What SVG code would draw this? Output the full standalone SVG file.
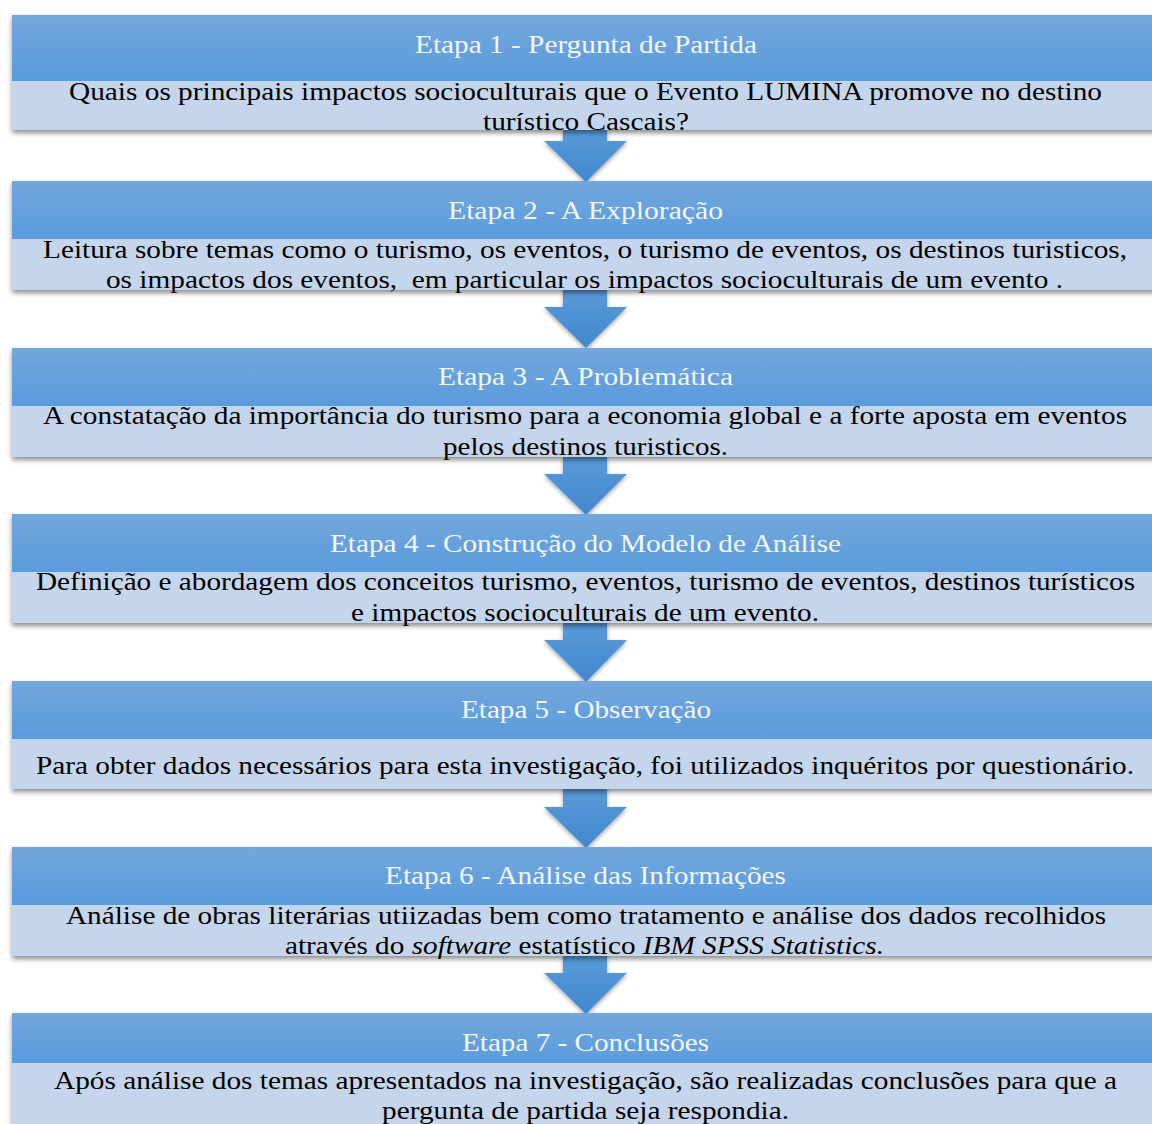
<svg xmlns="http://www.w3.org/2000/svg" width="1152" height="1124" viewBox="0 0 1152 1124">
<defs>
<linearGradient id="hdr" x1="0" y1="0" x2="0" y2="1">
<stop offset="0" stop-color="#73a7dc"/>
<stop offset="1" stop-color="#5a9bdc"/>
</linearGradient>
<linearGradient id="arr" x1="0" y1="0" x2="0" y2="1">
<stop offset="0" stop-color="#5a9bd9"/>
<stop offset="1" stop-color="#4288ce"/>
</linearGradient>
<filter id="sh" x="-5%" y="-20%" width="110%" height="150%">
<feDropShadow dx="0" dy="3" stdDeviation="2.5" flood-color="#000" flood-opacity="0.45"/>
</filter>
<filter id="ash" x="-30%" y="-30%" width="160%" height="160%">
<feDropShadow dx="0" dy="2" stdDeviation="2" flood-color="#000" flood-opacity="0.35"/>
</filter>
</defs>
<style>
.hdr{fill:url(#hdr)}
.body{fill:#c5d6ec}
text{font-family:'Liberation Serif','Times New Roman',Times,serif;text-anchor:middle}
.t{font-size:25px;fill:#f3f7fc}
.b{font-size:26px;fill:#000}
.arrow{fill:url(#arr)}
</style>
<rect width="1152" height="1124" fill="#fff"/>

<g id="connectors" filter="url(#ash)">
<path class="arrow" d="M563 128 H607 V141 H627 L586 182 L544 141 H563 Z"/>
<path class="arrow" d="M563 288 H607 V307 H627 L586 348 L544 307 H563 Z"/>
<path class="arrow" d="M563 455 H607 V474 H627 L586 515 L544 474 H563 Z"/>
<path class="arrow" d="M563 621 H607 V640 H627 L586 682 L544 640 H563 Z"/>
<path class="arrow" d="M563 787 H607 V807 H627 L586 848 L544 807 H563 Z"/>
<path class="arrow" d="M563 954 H607 V973 H627 L586 1014 L544 973 H563 Z"/>
</g>

<g id="etapa1">
<g filter="url(#sh)"><rect class="hdr" x="12" y="15" width="1145" height="66"/><rect class="body" x="12" y="81" width="1145" height="49"/></g>
<text class="t" transform="matrix(1.17 0 0 1 586 53)" textLength="292.3" lengthAdjust="spacingAndGlyphs">Etapa 1 - Pergunta de Partida</text>
<text class="b" transform="matrix(1.12 0 0 1 585.5 100)" textLength="922.3" lengthAdjust="spacingAndGlyphs">Quais os principais impactos socioculturais que o Evento LUMINA promove no destino</text>
<text class="b" transform="matrix(1.12 0 0 1 586 130)" textLength="183.9" lengthAdjust="spacingAndGlyphs">turístico Cascais?</text>
</g>

<g id="etapa2">
<g filter="url(#sh)"><rect class="hdr" x="12" y="181" width="1145" height="58"/><rect class="body" x="12" y="239" width="1145" height="51"/></g>
<text class="t" transform="matrix(1.17 0 0 1 585.5 219)" textLength="235" lengthAdjust="spacingAndGlyphs">Etapa 2 - A Exploração</text>
<text class="b" transform="matrix(1.12 0 0 1 585 258)" textLength="967.9" lengthAdjust="spacingAndGlyphs">Leitura sobre temas como o turismo, os eventos, o turismo de eventos, os destinos turisticos,</text>
<text class="b" transform="matrix(1.12 0 0 1 584.5 288)" textLength="854.5" lengthAdjust="spacingAndGlyphs" xml:space="preserve">os impactos dos eventos,  em particular os impactos socioculturais de um evento .</text>
</g>

<g id="etapa3">
<g filter="url(#sh)"><rect class="hdr" x="12" y="348" width="1145" height="58"/><rect class="body" x="12" y="406" width="1145" height="51"/></g>
<text class="t" transform="matrix(1.17 0 0 1 585.5 385)" textLength="252.1" lengthAdjust="spacingAndGlyphs">Etapa 3 - A Problemática</text>
<text class="b" transform="matrix(1.12 0 0 1 585 424)" textLength="967.9" lengthAdjust="spacingAndGlyphs">A constatação da importância do turismo para a economia global e a forte aposta em eventos</text>
<text class="b" transform="matrix(1.12 0 0 1 585.5 455)" textLength="254.5" lengthAdjust="spacingAndGlyphs">pelos destinos turisticos.</text>
</g>

<g id="etapa4">
<g filter="url(#sh)"><rect class="hdr" x="12" y="514" width="1145" height="58"/><rect class="body" x="12" y="572" width="1145" height="51"/></g>
<text class="t" transform="matrix(1.17 0 0 1 585.5 552)" textLength="436.8" lengthAdjust="spacingAndGlyphs">Etapa 4 - Construção do Modelo de Análise</text>
<text class="b" transform="matrix(1.12 0 0 1 585.5 590)" textLength="981.3" lengthAdjust="spacingAndGlyphs">Definição e abordagem dos conceitos turismo, eventos, turismo de eventos, destinos turísticos</text>
<text class="b" transform="matrix(1.12 0 0 1 585 621)" textLength="417.9" lengthAdjust="spacingAndGlyphs">e impactos socioculturais de um evento.</text>
</g>

<g id="etapa5">
<g filter="url(#sh)"><rect class="hdr" x="12" y="681" width="1145" height="58"/><rect class="body" x="12" y="739" width="1145" height="50"/></g>
<text class="t" transform="matrix(1.17 0 0 1 586 718)" textLength="213.7" lengthAdjust="spacingAndGlyphs">Etapa 5 - Observação</text>
<text class="b" transform="matrix(1.12 0 0 1 585 774)" textLength="980.4" lengthAdjust="spacingAndGlyphs">Para obter dados necessários para esta investigação, foi utilizados inquéritos por questionário.</text>
</g>

<g id="etapa6">
<g filter="url(#sh)"><rect class="hdr" x="12" y="847" width="1145" height="58"/><rect class="body" x="12" y="905" width="1145" height="51"/></g>
<text class="t" transform="matrix(1.17 0 0 1 585.5 884)" textLength="342.7" lengthAdjust="spacingAndGlyphs">Etapa 6 - Análise das Informações</text>
<text class="b" transform="matrix(1.12 0 0 1 586 924)" textLength="928.6" lengthAdjust="spacingAndGlyphs">Análise de obras literárias utiizadas bem como tratamento e análise dos dados recolhidos</text>
<text class="b" transform="matrix(1.12 0 0 1 584.5 954)" textLength="534.8" lengthAdjust="spacingAndGlyphs">através do <tspan font-style="italic">software</tspan> estatístico <tspan font-style="italic">IBM SPSS Statistics.</tspan></text>
</g>

<g id="etapa7">
<g filter="url(#sh)"><rect class="hdr" x="12" y="1013" width="1145" height="50"/><rect class="body" x="12" y="1063" width="1145" height="70"/></g>
<text class="t" transform="matrix(1.17 0 0 1 585.5 1051)" textLength="211.1" lengthAdjust="spacingAndGlyphs">Etapa 7 - Conclusões</text>
<text class="b" transform="matrix(1.12 0 0 1 585.5 1089)" textLength="949.1" lengthAdjust="spacingAndGlyphs">Após análise dos temas apresentados na investigação, são realizadas conclusões para que a</text>
<text class="b" transform="matrix(1.12 0 0 1 585.5 1119)" textLength="363.4" lengthAdjust="spacingAndGlyphs">pergunta de partida seja respondia.</text>
</g>
</svg>
